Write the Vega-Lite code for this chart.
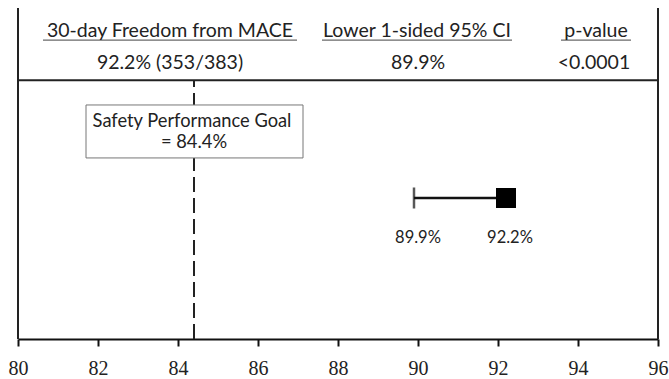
{
  "$schema": "https://vega.github.io/schema/vega-lite/v6.json",
  "width": 640,
  "height": 331,
  "autosize": "none",
  "padding": {"left": 18, "top": 8, "right": 11, "bottom": 40},
  "background": "white",
  "config": {"view": {"stroke": null}},
  "encoding": {
    "x": {
      "type": "quantitative",
      "scale": {"domain": [80, 96], "nice": false, "zero": false},
      "axis": {
        "values": [80, 82, 84, 86, 88, 90, 92, 94, 96],
        "title": null,
        "grid": false,
        "domainColor": "#111",
        "domainWidth": 2,
        "tickColor": "#111",
        "tickWidth": 2,
        "tickSize": 7,
        "labelFont": "Liberation Serif",
        "labelFontSize": 20,
        "labelColor": "#222",
        "labelPadding": 12,
        "labelFlush": false
      }
    }
  },
  "layer": [
    {
      "data": {"values": [
        {"part": "left edge", "x": 80, "x2": 80, "y": 0, "y2": 100},
        {"part": "right edge", "x": 96, "x2": 96, "y": 0, "y2": 100},
        {"part": "header divider", "x": 80, "x2": 96, "y": 78.2, "y2": 78.2}
      ]},
      "mark": {"type": "rule", "color": "#222", "strokeWidth": 2},
      "encoding": {
        "x": {"field": "x", "type": "quantitative"},
        "x2": {"field": "x2"},
        "y": {"field": "y", "type": "quantitative", "scale": {"domain": [0, 100]}, "axis": null},
        "y2": {"field": "y2"}
      }
    },
    {
      "data": {"values": [
        {"label": "30-day Freedom from MACE", "x": 80.625, "x2": 86.975},
        {"label": "Lower 1-sided 95% CI", "x": 87.6, "x2": 92.35},
        {"label": "p-value", "x": 93.575, "x2": 95.325}
      ]},
      "mark": {"type": "rule", "color": "#444", "strokeWidth": 1},
      "encoding": {
        "x": {"field": "x", "type": "quantitative"},
        "x2": {"field": "x2"},
        "y": {"datum": 90.3, "type": "quantitative"}
      }
    },
    {
      "data": {"values": [
        {"text": "30-day Freedom from MACE", "x": 83.8, "y": 93.0},
        {"text": "92.2% (353/383)", "x": 83.8, "y": 83.3},
        {"text": "Lower 1-sided 95% CI", "x": 89.975, "y": 93.0},
        {"text": "89.9%", "x": 90.0, "y": 83.3},
        {"text": "p-value", "x": 94.45, "y": 93.0},
        {"text": "<0.0001", "x": 94.4, "y": 83.3}
      ]},
      "mark": {"type": "text", "font": "Lato", "fontSize": 19.5, "color": "#222", "baseline": "middle", "align": "center"},
      "encoding": {
        "x": {"field": "x", "type": "quantitative"},
        "y": {"field": "y", "type": "quantitative"},
        "text": {"field": "text"}
      }
    },
    {
      "data": {"values": [{"goal": 84.4, "y": 0, "y2": 78.2}]},
      "mark": {"type": "rule", "color": "#222", "strokeWidth": 2, "strokeDash": [15, 6]},
      "encoding": {
        "x": {"field": "goal", "type": "quantitative"},
        "y": {"field": "y", "type": "quantitative"},
        "y2": {"field": "y2"}
      }
    },
    {
      "data": {"values": [{"x": 81.7, "x2": 87.125, "y": 54.7, "y2": 70.7}]},
      "mark": {"type": "rect", "fill": "white", "stroke": "#777", "strokeWidth": 1},
      "encoding": {
        "x": {"field": "x", "type": "quantitative"},
        "x2": {"field": "x2"},
        "y": {"field": "y", "type": "quantitative"},
        "y2": {"field": "y2"}
      }
    },
    {
      "data": {"values": [
        {"text": "Safety Performance Goal", "x": 84.35, "y": 65.6},
        {"text": "= 84.4%", "x": 84.4, "y": 59.2}
      ]},
      "mark": {"type": "text", "font": "Lato", "fontSize": 18.3, "color": "#222", "baseline": "middle", "align": "center"},
      "encoding": {
        "x": {"field": "x", "type": "quantitative"},
        "y": {"field": "y", "type": "quantitative"},
        "text": {"field": "text"}
      }
    },
    {
      "data": {"values": [{"lower": 89.9, "estimate": 92.2, "y": 42.6}]},
      "layer": [
        {
          "mark": {"type": "rule", "color": "#111", "strokeWidth": 2.5},
          "encoding": {
            "x": {"field": "lower", "type": "quantitative"},
            "x2": {"field": "estimate"},
            "y": {"field": "y", "type": "quantitative"}
          }
        },
        {
          "mark": {"type": "tick", "orient": "vertical", "color": "#111", "size": 21, "thickness": 2.5},
          "encoding": {
            "x": {"field": "lower", "type": "quantitative"},
            "y": {"field": "y", "type": "quantitative"}
          }
        },
        {
          "mark": {"type": "point", "shape": "square", "filled": true, "color": "#000", "size": 400, "opacity": 1},
          "encoding": {
            "x": {"field": "estimate", "type": "quantitative"},
            "y": {"field": "y", "type": "quantitative"}
          }
        }
      ]
    },
    {
      "data": {"values": [
        {"text": "89.9%", "x": 90.0, "y": 30.5},
        {"text": "92.2%", "x": 92.3, "y": 30.5}
      ]},
      "mark": {"type": "text", "font": "Lato", "fontSize": 16.5, "color": "#222", "baseline": "middle", "align": "center"},
      "encoding": {
        "x": {"field": "x", "type": "quantitative"},
        "y": {"field": "y", "type": "quantitative"},
        "text": {"field": "text"}
      }
    }
  ]
}
